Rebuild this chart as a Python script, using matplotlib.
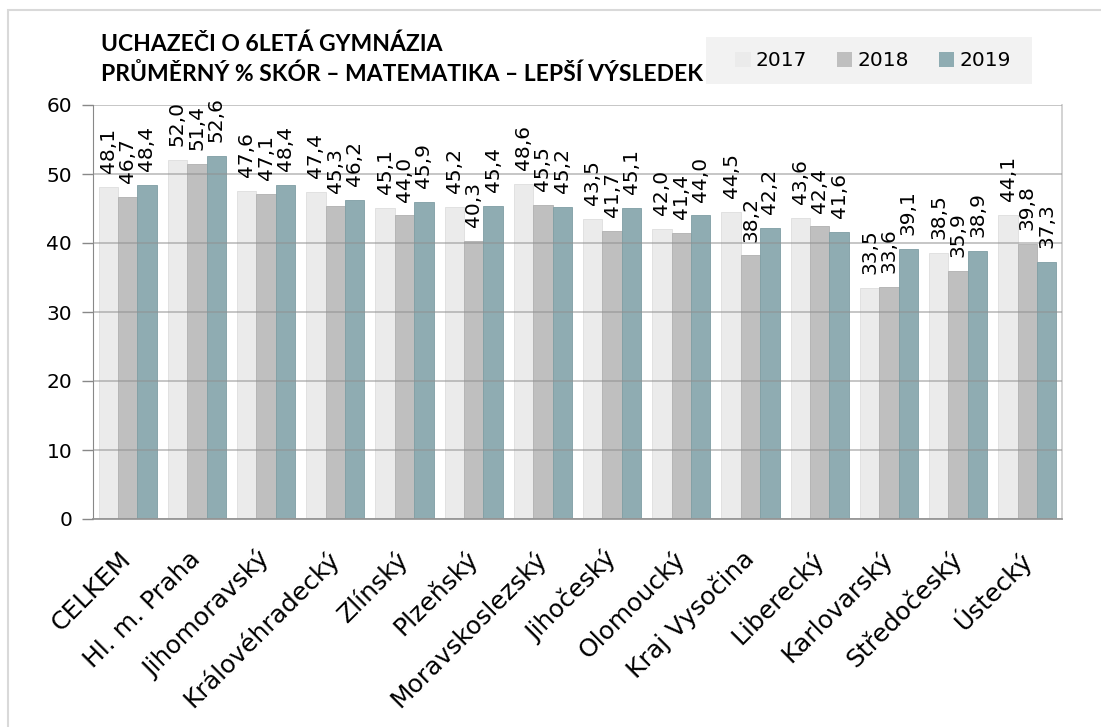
import numpy as np
import matplotlib.pyplot as plt
from matplotlib.patches import Rectangle

# ── data ─────────────────────────────────────────
regions = ['CELKEM', 'Hl. m. Praha', 'Jihomoravský', 'Královéhradecký',
           'Zlínský', 'Plzeňský', 'Moravskoslezský', 'Jihočeský',
           'Olomoucký', 'Kraj Vysočina', 'Liberecký', 'Karlovarský',
           'Středočeský', 'Ústecký']
years = ['2017', '2018', '2019']
score_2017 = [48.1, 52.0, 47.6, 47.4, 45.1, 45.2, 48.6, 43.5, 42.0, 44.5, 43.6, 33.5, 38.5, 44.1]
score_2018 = [46.7, 51.4, 47.1, 45.3, 44.0, 40.3, 45.5, 41.7, 41.4, 38.2, 42.4, 33.6, 35.9, 39.8]
score_2019 = [48.4, 52.6, 48.4, 46.2, 45.9, 45.4, 45.2, 45.1, 44.0, 42.2, 41.6, 39.1, 38.9, 37.3]
yticks = [0, 10, 20, 30, 40, 50, 60]

colors = ['#ebebeb', '#bfbfbf', '#8facb2']
edges = ['#dedede', '#b0b0b0', '#7f9ea4']

plt.rcParams['font.family'] = ['DejaVu Sans']

fig = plt.figure(figsize=(11.01, 7.27), dpi=100)
ax = fig.add_axes([93 / 1101, 1 - 519 / 727, (1062 - 93) / 1101, (519 - 105) / 727])

x = np.arange(len(regions))
w = 0.28
series = [score_2017, score_2018, score_2019]
for i, (vals, yr) in enumerate(zip(series, years)):
    pos = x + (i - 1) * w
    ax.bar(pos, vals, width=w, color=colors[i], edgecolor=edges[i],
           linewidth=0.6, label=yr, zorder=2)
    for px, v in zip(pos, vals):
        ax.annotate(f'{v:.1f}'.replace('.', ','), (px, v), xytext=(0, 10),
                    textcoords='offset points', rotation=90,
                    ha='center', va='bottom', fontsize=14.5, zorder=4)

ax.set_xlim(-0.5, len(regions) - 0.5)
ax.set_ylim(0, 60)
ax.set_yticks(yticks)
ax.tick_params(axis='y', labelsize=14.5, length=8, width=1, color='#888888', pad=7)
ax.set_xticks(x)
ax.set_xticklabels(regions, rotation=45, ha='right', va='center',
                   rotation_mode='anchor', fontsize=18)
ax.tick_params(axis='x', length=0, pad=26)

ax.yaxis.grid(True, color='#909090', alpha=0.55, lw=1.3, zorder=3)
ax.set_axisbelow(False)

ax.spines['left'].set_color('#888888')
ax.spines['bottom'].set_color('#999999')
ax.spines['bottom'].set_linewidth(1.3)
ax.spines['right'].set_color('#d0d0d0')
ax.spines['right'].set_linewidth(1.3)
ax.spines['top'].set_visible(False)

# title
fig.text(101 / 1101, 1 - 51 / 727, 'UCHAZEČI O 6LETÁ GYMNÁZIA', family='Lato',
         fontweight='bold', fontsize=16.5, ha='left', va='baseline')
fig.text(101 / 1101, 1 - 81 / 727, 'PRŮMĚRNÝ % SKÓR – MATEMATIKA – LEPŠÍ VÝSLEDEK',
         family='Lato', fontweight='bold', fontsize=16.5, ha='left', va='baseline')

# legend on a grey panel
fig.patches.append(Rectangle((706 / 1101, 1 - 84 / 727), (1032 - 706) / 1101, 47 / 727,
                             transform=fig.transFigure, facecolor='#f2f2f2',
                             edgecolor='none', zorder=0))
leg = fig.legend(loc='center', bbox_to_anchor=(873 / 1101, 1 - 61 / 727),
                 borderaxespad=0, ncol=3, frameon=False, fontsize=14.5,
                 handlelength=0.75, handleheight=0.75, handletextpad=0.25,
                 columnspacing=1.5, borderpad=0)
for h in leg.legend_handles:
    h.set_edgecolor('none')

# outer border
fig.patches.append(Rectangle((8 / 1101, -0.05), 1.0, 1 - 10 / 727 + 0.05,
                             transform=fig.transFigure, fill=False,
                             edgecolor='#d9d9d9', linewidth=1.5))

fig.savefig('out.png', dpi=100)
